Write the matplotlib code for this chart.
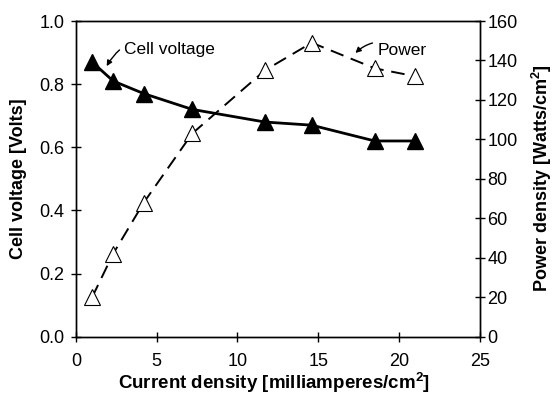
import matplotlib
matplotlib.use("Agg")
import matplotlib.pyplot as plt

# values
current = [1.0, 2.3, 4.2, 7.2, 11.7, 14.6, 18.5, 21.0]
voltage = [0.87, 0.81, 0.77, 0.72, 0.68, 0.67, 0.62, 0.62]
power = [20, 42, 68, 103, 135, 149, 136, 132]

x_ticks = [0, 5, 10, 15, 20, 25]
v_ticks = [0.0, 0.2, 0.4, 0.6, 0.8, 1.0]
p_ticks = [0, 20, 40, 60, 80, 100, 120, 140, 160]

plt.rcParams["font.family"] = ["Liberation Sans", "DejaVu Sans"]
plt.rcParams["mathtext.fontset"] = "custom"
plt.rcParams["mathtext.rm"] = "Liberation Sans"
plt.rcParams["mathtext.bf"] = "Liberation Sans:bold"

fig = plt.figure(figsize=(5.53, 3.94), dpi=100)
ax = fig.add_axes([0.1374, 0.1454, 0.7301, 0.8013])
ax2 = ax.twinx()

ax.plot(current, voltage, color="black", lw=2.0, marker="^", ms=11,
        markerfacecolor="black", markeredgecolor="black", zorder=3)
ax2.plot(current, power, color="black", lw=1.4, dashes=(7, 4), marker="^", ms=11,
         markerfacecolor="white", markeredgecolor="black", markeredgewidth=0.8)

ax.set_xlim(0, 25)
ax.set_ylim(0, 1.0)
ax2.set_ylim(0, 160)
ax.set_xticks(x_ticks)
ax.set_yticks(v_ticks)
ax.set_yticklabels(["%.1f" % v for v in v_ticks])
ax2.set_yticks(p_ticks)

for a in (ax, ax2):
    a.tick_params(direction="inout", length=7, width=1.0, labelsize=13, pad=2)
    for s in a.spines.values():
        s.set_linewidth(1.0)
ax.tick_params(axis="x", pad=8)
ax.tick_params(axis="y", pad=5)

# axis titles placed as figure text to match the reference layout
fig.text(274 / 553, 1 - 389 / 394, r"Current density [milliamperes/cm$\mathbf{^2}$]",
         fontsize=13.5, fontweight="bold", ha="center", va="baseline")
fig.text(19 / 553, 1 - 179 / 394, "Cell voltage [Volts]", rotation=90,
         fontsize=13, fontweight="bold", ha="center", va="center")
fig.text(542 / 553, 1 - 178 / 394, r"Power density [Watts/cm$\mathbf{^2}$]",
         rotation=90, fontsize=13, fontweight="bold", ha="center", va="center")

ax.annotate("Cell voltage", xy=(1.9, 0.857), xytext=(3.0, 0.91),
            fontsize=12.5, va="center", ha="left",
            arrowprops=dict(arrowstyle="-|>", color="black", lw=1.0,
                            mutation_scale=8, shrinkA=2, shrinkB=0,
                            connectionstyle="arc3,rad=0.5"))
ax2.annotate("Power", xy=(17.3, 143.8), xytext=(18.7, 145.3),
             fontsize=12.5, va="center", ha="left",
             arrowprops=dict(arrowstyle="-|>", color="black", lw=1.0,
                             mutation_scale=8, shrinkA=2, shrinkB=0,
                             connectionstyle="arc3,rad=0.4"))

fig.savefig("out.png", dpi=100)
